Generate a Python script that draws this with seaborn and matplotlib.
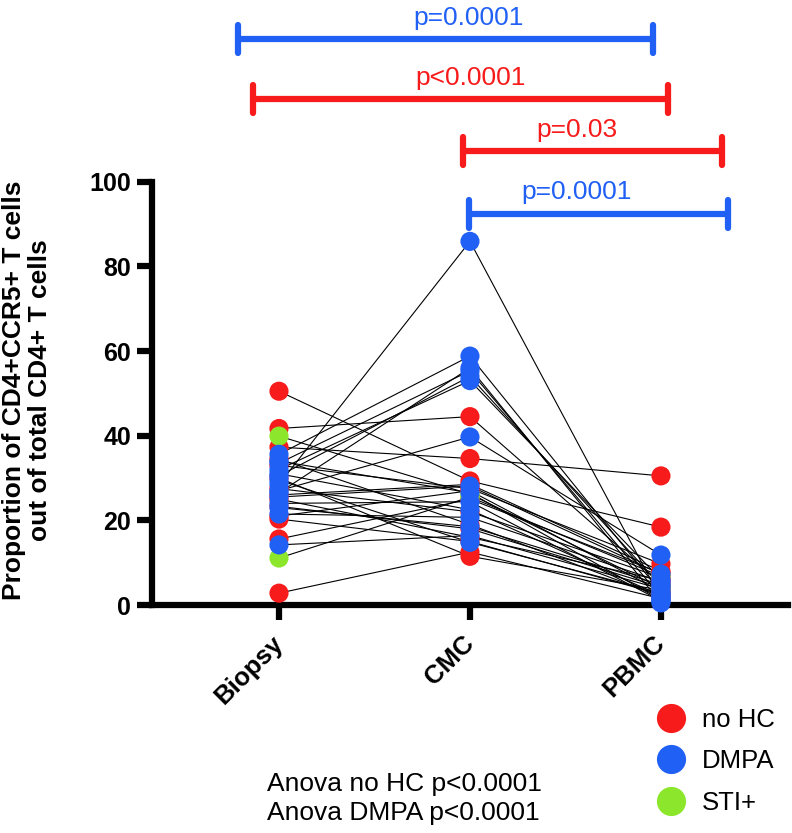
import pandas as pd
import seaborn as sns
import matplotlib.pyplot as plt
from matplotlib.lines import Line2D

# values, one entry per subject
sites = ["Biopsy", "CMC", "PBMC"]
groups = ["no HC"] * 14 + ["DMPA"] * 15 + ["STI+"] * 2
biopsy = [50.5, 41.7, 37.3, 33.0, 30.0, 27.5, 23.3, 20.3, 15.6, 2.8, 26.0, 34.5, 25.0, 21.0,
          35.6, 33.5, 32.0, 30.5, 28.5, 27.0, 25.5, 24.0, 21.5, 14.2, 29.5, 26.5, 31.0, 23.0, 34.0,
          39.9, 11.1]
cmc = [29.3, 44.5, 34.6, 27.5, 11.5, 22.0, 18.0, 15.0, 25.0, 12.5, 28.5, 19.0, 16.0, 27.0,
       58.8, 55.3, 53.0, 54.0, 85.9, 39.7, 28.1, 24.4, 20.7, 16.4, 14.8, 56.0, 22.5, 18.5, 26.5,
       26.2, 25.5]
pbmc = [18.4, 5.0, 30.5, 9.7, 3.5, 6.5, 4.2, 2.5, 7.5, 1.5, 8.0, 2.0, 5.8, 3.2,
        3.0, 2.0, 6.0, 4.5, 1.5, 11.8, 7.3, 1.0, 5.5, 3.8, 2.8, 0.5, 2.2, 4.8, 1.2,
        4.0, 6.8]

group_order = ["no HC", "STI+", "DMPA"]
legend_order = ["no HC", "DMPA", "STI+"]
palette = {"no HC": "#F71B1B", "DMPA": "#2160F5", "STI+": "#8CE62C"}

# significance brackets
br_text = ["p=0.0001", "p<0.0001", "p=0.03", "p=0.0001"]
br_group = ["DMPA", "no HC", "no HC", "DMPA"]
br_x0 = [-0.216, -0.136, 0.961, 0.993]
br_x1 = [1.958, 2.037, 2.319, 2.351]
br_y = [133.8, 119.5, 107.3, 92.4]
br_tx = [0.99, 1.005, 1.56, 1.56]
br_ty = [137.0, 122.8, 110.6, 95.9]

rows = []
for i, g in enumerate(groups):
    for j, v in enumerate([biopsy[i], cmc[i], pbmc[i]]):
        rows.append({"subject": i, "group": g, "site": sites[j], "pos": j, "value": v})
df = pd.DataFrame(rows)
df["rank"] = df["group"].map({g: k for k, g in enumerate(group_order)})
df = df.sort_values(["rank", "subject"]).reset_index(drop=True)

sns.set_style("ticks")
plt.rcParams["font.family"] = ["Liberation Sans", "DejaVu Sans"]
for key in ["text.color", "axes.labelcolor", "xtick.color", "ytick.color", "axes.edgecolor"]:
    plt.rcParams[key] = "black"

fig = plt.figure(figsize=(7.92, 8.33), dpi=100)
ax = fig.add_axes([0.1919, 0.2737, 0.803, 0.5082])

sns.lineplot(data=df, x="pos", y="value", units="subject", estimator=None,
             sort=False, color="black", lw=0.8, ax=ax, legend=False, zorder=2)
sns.scatterplot(data=df, x="pos", y="value", hue="group", palette=palette,
                s=190, edgecolor="none", linewidth=0, ax=ax, legend=False,
                zorder=4, clip_on=False)

ax.set_xlim(-0.665, 2.665)
ax.set_ylim(0, 100)
ax.set_xticks(range(len(sites)))
ax.set_xticklabels(sites, rotation=45, ha="right", va="center",
                   rotation_mode="anchor", fontsize=18.5, fontweight="bold")
ax.set_yticks(range(0, 101, 20))
ax.tick_params(axis="y", labelsize=18, width=4.5, length=11, pad=4)
ax.tick_params(axis="x", width=4.5, length=11, pad=14)
for lab in ax.get_yticklabels():
    lab.set_fontweight("bold")
ax.set_xlabel("")
ax.set_ylabel("Proportion of CD4+CCR5+ T cells\nout of total CD4+ T cells",
              fontsize=19, fontweight="bold", linespacing=1.1)
ax.yaxis.set_label_coords(-0.158, 0.508)
sns.despine(ax=ax)
for side in ["left", "bottom"]:
    ax.spines[side].set_linewidth(4.5)

for k in range(len(br_text)):
    c = palette[br_group[k]]
    ax.plot([br_x0[k], br_x1[k]], [br_y[k], br_y[k]], color=c, lw=4.5,
            solid_capstyle="round", clip_on=False)
    for xe in (br_x0[k], br_x1[k]):
        ax.plot([xe, xe], [br_y[k] - 3.3, br_y[k] + 3.3], color=c, lw=4.5,
                solid_capstyle="round", clip_on=False)
    ax.text(br_tx[k], br_ty[k], br_text[k], color=c, ha="center", va="baseline",
            fontsize=19, clip_on=False)

handles = [Line2D([], [], marker="o", ls="", ms=21, color=palette[g], mec="none")
           for g in legend_order]
fig.legend(handles, legend_order, loc="upper left", bbox_to_anchor=(0.815, 0.166),
           frameon=False, fontsize=18.5, handlelength=1.0, handletextpad=0.7,
           labelspacing=0.69, borderpad=0)

fig.text(267 / 792, 1 - 798.5 / 833, "Anova no HC p<0.0001\nAnova DMPA p<0.0001",
         ha="left", va="center", fontsize=19, linespacing=1.25)

fig.savefig("out.png", dpi=100)
